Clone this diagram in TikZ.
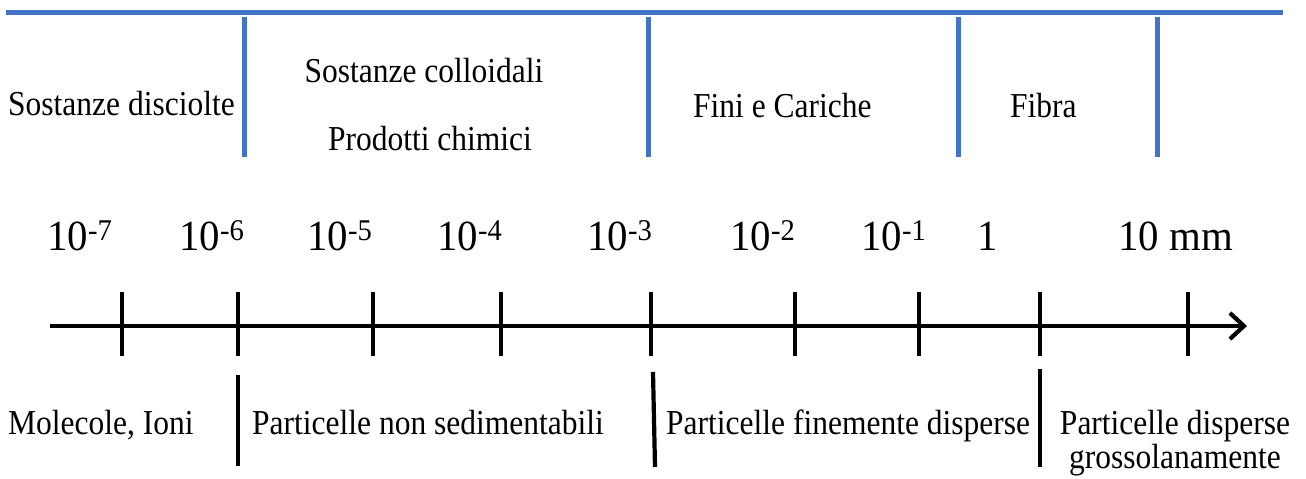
\documentclass[tikz,border=0pt]{standalone}
\usepackage{fontspec}
\setmainfont{Liberation Serif}
\newfontfamily\lblfont[FakeStretch=0.9]{Liberation Serif}
\newfontfamily\numfont[FakeStretch=0.95]{Liberation Serif}
\usetikzlibrary{arrows.meta}
\definecolor{ofblue}{HTML}{4472C4}
\begin{document}
\begin{tikzpicture}[x=1pt,y=-1pt,
  bluerule/.style={draw=ofblue,line width=5pt},
  blackrule/.style={draw=black,line width=4.2pt},
  tickline/.style={draw=black,line width=4.4pt},
  lbl/.style={inner sep=0pt,font=\lblfont\fontsize{35}{40}\selectfont},
  num/.style={inner sep=0pt,anchor=base west,font=\numfont\fontsize{43}{50}\selectfont}]
\useasboundingbox (0,0) rectangle (1306,479);
% top blue frame
\coordinate (tl) at (6,12);
\coordinate (tr) at (1283,12);
\draw[bluerule] (tl) -- (tr);
\foreach \x/\n in {244/a,648/b,958/c,1157/d}{
  \coordinate (bt\n) at (\x,17);
  \coordinate (bb\n) at (\x,157);
  \draw[bluerule] (bt\n) -- (bb\n);
}
% top labels
\node[lbl,anchor=base west] (sd) at (8,115) {Sostanze disciolte};
\node[lbl,anchor=base] (sc) at (424,82) {Sostanze colloidali};
\node[lbl,anchor=base] (pc) at (430,150) {Prodotti chimici};
\node[lbl,anchor=base west] (fc) at (693,117) {Fini e Cariche};
\node[lbl,anchor=base west] (fb) at (1010,117) {Fibra};
% numbers
\node[num] (n7) at (47,250) {10\textsuperscript{-7}};
\node[num] (n6) at (179,250) {10\textsuperscript{-6}};
\node[num] (n5) at (307,250) {10\textsuperscript{-5}};
\node[num] (n4) at (437,250) {10\textsuperscript{-4}};
\node[num] (n3) at (587,250) {10\textsuperscript{-3}};
\node[num] (n2) at (730,250) {10\textsuperscript{-2}};
\node[num] (n1) at (861,250) {10\textsuperscript{-1}};
\node[num] (n0) at (977,250) {1};
\node[num] (nmm) at (1118,250) {10 mm};
% axis
\coordinate (ax0) at (50,326);
\coordinate (ax1) at (1247,326);
\draw[line width=4.2pt,-{Straight Barb[length=14pt,width=26pt,line width=4.2pt]}] (ax0) -- (ax1);
\foreach \x/\n in {122/1,238/2,373/3,501/4,651/5,795/6,919/7,1040/8,1188/9}{
  \coordinate (tt\n) at (\x,292);
  \coordinate (tb\n) at (\x,356);
  \draw[tickline] (tt\n) -- (tb\n);
}
% bottom separators
\coordinate (s1t) at (238,375); \coordinate (s1b) at (238,466);
\coordinate (s2t) at (653,372); \coordinate (s2b) at (655,467);
\coordinate (s3t) at (1040,369); \coordinate (s3b) at (1040,467);
\draw[blackrule] (s1t) -- (s1b);
\draw[blackrule] (s2t) -- (s2b);
\draw[blackrule] (s3t) -- (s3b);
% bottom labels
\node[lbl,anchor=base west] (mi) at (8,434) {Molecole, Ioni};
\node[lbl,anchor=base west] (pns) at (252,434) {Particelle non sedimentabili};
\node[lbl,anchor=base west] (pfd) at (666,434) {Particelle finemente disperse};
\node[lbl,anchor=base] (pd) at (1175,434) {Particelle disperse};
\node[lbl,anchor=base] (gr) at (1175,468) {grossolanamente};
\end{tikzpicture}
\end{document}
